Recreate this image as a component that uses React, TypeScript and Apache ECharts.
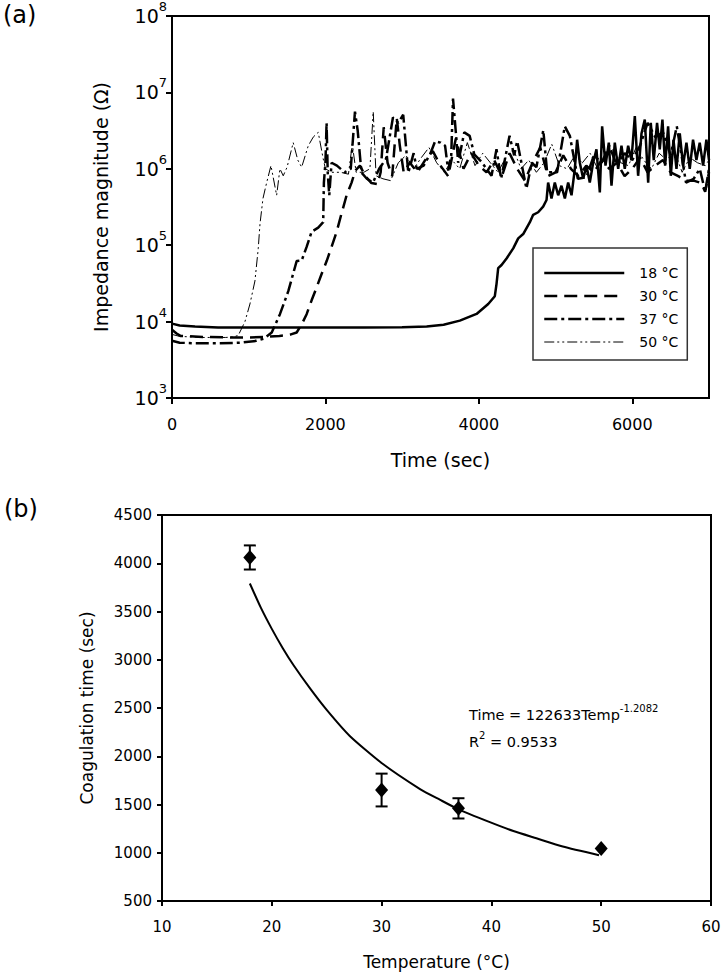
import React, { useEffect, useRef } from 'react';
import * as echarts from 'echarts';

const FONT = 'DejaVu Sans';

// ---- Panel (a): impedance magnitude vs time ----
const seriesNames = ['18 °C', '30 °C', '37 °C', '50 °C'];

const t18 = [0, 100, 300, 600, 1000, 1500, 2000, 2500, 3000, 3320, 3540, 3752, 3970, 4122, 4208, 4230, 4252, 4296, 4361, 4448, 4513, 4578, 4665, 4708, 4773, 4838, 4882, 4903, 4947, 4990, 5034, 5077, 5121, 5164, 5208, 5251, 5281, 5316, 5360, 5403, 5446, 5490, 5533, 5577, 5607, 5651, 5694, 5729, 5772, 5816, 5859, 5902, 5946, 5989, 6033, 6076, 6120, 6163, 6207, 6241, 6280, 6323, 6358, 6393, 6428, 6467, 6502, 6537, 6576, 6619, 6662, 6706, 6749, 6792, 6836, 6879, 6923, 6966, 7000];
const z18 = [9400, 8900, 8600, 8400, 8400, 8350, 8350, 8400, 8450, 8600, 9100, 10300, 12600, 17000, 21500, 31000, 50000, 55000, 67000, 91000, 123000, 140000, 200000, 250000, 270000, 320000, 390000, 660000, 410000, 660000, 450000, 600000, 410000, 660000, 450000, 1000000, 2400000, 1200000, 740000, 1100000, 660000, 1200000, 1800000, 490000, 3600000, 1100000, 2200000, 600000, 2200000, 1000000, 2000000, 1000000, 2000000, 1300000, 4900000, 810000, 2900000, 4400000, 660000, 4000000, 1300000, 4000000, 1800000, 4400000, 1100000, 3600000, 810000, 2400000, 1000000, 2900000, 1100000, 2200000, 1000000, 2400000, 1300000, 2200000, 1100000, 2400000, 1300000];

const t30 = [0, 60, 110, 400, 800, 1000, 1200, 1400, 1550, 1625, 1690, 1755, 1820, 1885, 1950, 2016, 2080, 2146, 2210, 2276, 2341, 2390, 2450, 2520, 2600, 2680, 2720, 2760, 2810, 2870, 2930, 2970, 3020, 3100, 3200, 3300, 3400, 3500, 3600, 3700, 3800, 3900, 4000, 4100, 4200, 4300, 4400, 4500, 4600, 4700, 4800, 4900, 5000, 5100, 5200, 5300, 5400, 5500, 5600, 5700, 5800, 5900, 6000, 6100, 6200, 6300, 6400, 6500, 6600, 6700, 6800, 6900, 6950, 7000];
const z30 = [7800, 7000, 6500, 6300, 6200, 6200, 6300, 6500, 6800, 7200, 9200, 12500, 19000, 28000, 42000, 62000, 95000, 150000, 260000, 450000, 660000, 950000, 1100000, 800000, 650000, 630000, 900000, 3500000, 1200000, 800000, 4600000, 2000000, 900000, 1200000, 900000, 1300000, 1700000, 1100000, 800000, 2500000, 1000000, 1600000, 1100000, 900000, 1300000, 800000, 1600000, 1000000, 700000, 1200000, 1900000, 800000, 900000, 1500000, 1000000, 800000, 1100000, 900000, 1300000, 1000000, 1200000, 800000, 1000000, 1400000, 900000, 1100000, 1300000, 900000, 800000, 700000, 700000, 650000, 500000, 900000];

const t37 = [0, 100, 300, 600, 900, 1100, 1200, 1300, 1407, 1516, 1625, 1690, 1755, 1820, 1906, 1971, 1980, 2000, 2015, 2030, 2050, 2080, 2150, 2250, 2330, 2385, 2420, 2470, 2540, 2620, 2700, 2790, 2880, 2950, 3014, 3080, 3150, 3190, 3280, 3370, 3430, 3500, 3560, 3600, 3640, 3663, 3700, 3730, 3810, 3880, 3940, 4030, 4165, 4230, 4290, 4400, 4460, 4500, 4620, 4690, 4750, 4840, 4890, 5020, 5120, 5186, 5290, 5403, 5500, 5600, 5700, 5800, 5900, 6000, 6100, 6200, 6300, 6400, 6500, 6580, 6700, 6800, 6880, 6950, 7000];
const z37 = [5600, 5300, 5200, 5200, 5300, 5600, 6000, 7200, 12500, 25000, 62000, 63000, 95000, 150000, 170000, 200000, 660000, 1200000, 4000000, 890000, 450000, 1200000, 1100000, 900000, 1000000, 5600000, 3200000, 890000, 740000, 660000, 1000000, 1350000, 4700000, 4000000, 5100000, 890000, 1600000, 1000000, 1100000, 1600000, 2300000, 2200000, 2000000, 950000, 1500000, 8300000, 3000000, 1200000, 3000000, 2700000, 1550000, 1250000, 810000, 1800000, 740000, 2700000, 1500000, 2300000, 550000, 1200000, 1050000, 3200000, 900000, 900000, 3600000, 2700000, 740000, 780000, 1500000, 1200000, 2000000, 1100000, 1600000, 1300000, 2000000, 4000000, 2600000, 3000000, 1500000, 3600000, 660000, 740000, 1000000, 500000, 1000000];

const t50 = [0, 100, 400, 700, 800, 864, 951, 1016, 1081, 1124, 1147, 1186, 1234, 1290, 1364, 1407, 1450, 1500, 1580, 1640, 1690, 1776, 1841, 1906, 1971, 2000, 2080, 2200, 2300, 2350, 2400, 2500, 2580, 2623, 2660, 2750, 2850, 2950, 3050, 3150, 3250, 3350, 3450, 3550, 3650, 3750, 3850, 3950, 4050, 4150, 4250, 4350, 4450, 4550, 4650, 4750, 4850, 4950, 5050, 5150, 5250, 5350, 5450, 5550, 5650, 5750, 5850, 5950, 6050, 6150, 6250, 6350, 6450, 6550, 6650, 6750, 6850, 6950, 7000];
const z50 = [6800, 6400, 6200, 6200, 6300, 6600, 10000, 17000, 34000, 90000, 190000, 410000, 660000, 1100000, 450000, 1000000, 810000, 1050000, 2200000, 1300000, 1050000, 2000000, 2600000, 3000000, 1350000, 1000000, 900000, 900000, 850000, 2100000, 900000, 900000, 1000000, 5600000, 810000, 740000, 700000, 1200000, 1500000, 1000000, 1400000, 1900000, 1200000, 900000, 1300000, 1000000, 2200000, 1100000, 1600000, 1200000, 900000, 1400000, 1800000, 1000000, 1300000, 900000, 1200000, 2100000, 1100000, 1000000, 1500000, 1200000, 1600000, 1000000, 1400000, 1800000, 1200000, 1100000, 1900000, 1300000, 1000000, 1600000, 1300000, 1700000, 900000, 1400000, 1200000, 1100000, 1300000];

const timeTicks = [0, 2000, 4000, 6000];

// ---- Panel (b): coagulation time vs temperature ----
const tempC = [18, 30, 37, 50];
const coagTime = [4060, 1650, 1460, 1045];
const coagErr = [125, 170, 105, 0];
const fitTemp = [18, 19, 20, 21, 22, 23.5, 25, 27.1, 30, 33.5, 35.3, 37, 39.8, 42, 44.1, 46.5, 49.8];
const fitTime = [3790, 3540, 3320, 3120, 2940, 2700, 2480, 2210, 1930, 1660, 1550, 1450, 1320, 1225, 1150, 1065, 975];

const black = '#000';

function pairs(xs: number[], ys: number[]) {
  return xs.map((x, i) => [x, ys[i]]);
}

function lineSeries(name: string, xs: number[], ys: number[], width: number, type: any) {
  return {
    name,
    type: 'line',
    xAxisIndex: 0,
    yAxisIndex: 0,
    data: pairs(xs, ys),
    symbol: 'none',
    showSymbol: false,
    lineStyle: { color: black, width, type },
    itemStyle: { color: black },
    z: 2,
  };
}

const plain = (v: number) => String(v);

function buildOption(): any {
  const axisLine = { show: true, onZero: false, lineStyle: { color: black, width: 2 } };
  const tickStyle = { color: black, width: 2 };
  return {
    animation: false,
    backgroundColor: '#fff',
    textStyle: { fontFamily: FONT },
    grid: [
      { left: 172, right: 15, top: 12, bottom: 580, show: true, borderColor: black, borderWidth: 2 },
      { left: 162, right: 13, top: 515, bottom: 77, show: true, borderColor: black, borderWidth: 2 },
    ],
    legend: {
      data: seriesNames,
      orient: 'vertical',
      left: 533,
      top: 248,
      itemWidth: 80,
      itemHeight: 14,
      itemGap: 9,
      padding: [18, 9, 11, 10],
      borderColor: '#333',
      borderWidth: 1.5,
      backgroundColor: '#fff',
      selectedMode: false,
      itemStyle: { opacity: 0 },
      lineStyle: { width: 'inherit', type: 'inherit' },
      textStyle: { fontSize: 14, fontFamily: FONT, color: black, padding: [0, 0, 0, 10] },
    },
    xAxis: [
      {
        gridIndex: 0,
        type: 'value',
        min: 0,
        max: 7000,
        name: 'Time (sec)',
        nameLocation: 'middle',
        nameGap: 52,
        nameTextStyle: { fontSize: 19, fontFamily: FONT, color: black },
        axisLine,
        axisTick: { show: true, length: 6, lineStyle: tickStyle, customValues: timeTicks },
        axisLabel: { fontSize: 16, fontFamily: FONT, color: black, margin: 18, customValues: timeTicks, formatter: plain },
        splitLine: { show: false },
      },
      {
        gridIndex: 1,
        type: 'value',
        min: 10,
        max: 60,
        interval: 10,
        name: 'Temperature (°C)',
        nameLocation: 'middle',
        nameGap: 52,
        nameTextStyle: { fontSize: 17, fontFamily: FONT, color: black },
        axisLine,
        axisTick: { show: true, length: 5, lineStyle: tickStyle },
        axisLabel: { fontSize: 15, fontFamily: FONT, color: black, margin: 18, formatter: plain },
        splitLine: { show: false },
      },
    ],
    yAxis: [
      {
        gridIndex: 0,
        type: 'log',
        logBase: 10,
        min: 1000,
        max: 100000000,
        name: 'Impedance magnitude (Ω)',
        nameLocation: 'middle',
        nameGap: 62,
        nameTextStyle: { fontSize: 19, fontFamily: FONT, color: black },
        axisLine,
        axisTick: { show: true, length: 6, lineStyle: tickStyle },
        minorTick: { show: false },
        axisLabel: {
          margin: 5,
          formatter: (v: number) => `{b|10}{s|${Math.round(Math.log10(v))}}`,
          rich: {
            b: { fontSize: 19, lineHeight: 32, fontFamily: FONT, color: black },
            s: { fontSize: 13, lineHeight: 14, verticalAlign: 'top', fontFamily: FONT, color: black },
          },
        },
        splitLine: { show: false },
      },
      {
        gridIndex: 1,
        type: 'value',
        min: 500,
        max: 4500,
        interval: 500,
        name: 'Coagulation time (sec)',
        nameLocation: 'middle',
        nameGap: 67,
        nameTextStyle: { fontSize: 17, fontFamily: FONT, color: black },
        axisLine,
        axisTick: { show: true, length: 5, lineStyle: tickStyle },
        axisLabel: { fontSize: 15, fontFamily: FONT, color: black, margin: 10, formatter: plain },
        splitLine: { show: false },
      },
    ],
    series: [
      lineSeries(seriesNames[0], t18, z18, 2.5, 'solid'),
      lineSeries(seriesNames[1], t30, z30, 2.5, [13, 7]),
      lineSeries(seriesNames[2], t37, z37, 2.5, [13, 4, 3, 4]),
      lineSeries(seriesNames[3], t50, z50, 1, [10, 3, 2, 3, 2, 3]),
      {
        name: 'fit',
        type: 'line',
        xAxisIndex: 1,
        yAxisIndex: 1,
        data: pairs(fitTemp, fitTime),
        smooth: 0.2,
        symbol: 'none',
        showSymbol: false,
        lineStyle: { color: black, width: 2 },
        z: 2,
      },
      {
        name: 'errors',
        type: 'custom',
        xAxisIndex: 1,
        yAxisIndex: 1,
        data: tempC.map((t, i) => [t, coagTime[i] - coagErr[i], coagTime[i] + coagErr[i]]),
        renderItem: (params: any, api: any) => {
          const lo = api.coord([api.value(0), api.value(1)]);
          const hi = api.coord([api.value(0), api.value(2)]);
          if (Math.abs(lo[1] - hi[1]) < 1) return null;
          const w = 6;
          const st = { stroke: black, lineWidth: 2 };
          return {
            type: 'group',
            children: [
              { type: 'line', shape: { x1: lo[0], y1: lo[1], x2: hi[0], y2: hi[1] }, style: st },
              { type: 'line', shape: { x1: lo[0] - w, y1: lo[1], x2: lo[0] + w, y2: lo[1] }, style: st },
              { type: 'line', shape: { x1: hi[0] - w, y1: hi[1], x2: hi[0] + w, y2: hi[1] }, style: st },
            ],
          };
        },
        z: 3,
      },
      {
        name: 'measured',
        type: 'scatter',
        xAxisIndex: 1,
        yAxisIndex: 1,
        data: pairs(tempC, coagTime),
        symbol: 'diamond',
        symbolSize: [13, 15],
        itemStyle: { color: black, opacity: 1 },
        z: 4,
      },
    ],
    graphic: [
      { type: 'text', left: 3, top: 3, style: { text: '(a)', fontSize: 24, fontFamily: FONT, fill: black } },
      { type: 'text', left: 4, top: 497, style: { text: '(b)', fontSize: 24, fontFamily: FONT, fill: black } },
      {
        type: 'text',
        left: 469,
        top: 703,
        style: {
          text: '{b|Time = 122633Temp}{s|-1.2082}',
          fill: black,
          rich: {
            b: { fontSize: 14.5, lineHeight: 24, fontFamily: FONT, fill: black, color: black },
            s: { fontSize: 10, lineHeight: 12, verticalAlign: 'top', fontFamily: FONT, fill: black, color: black },
          },
        },
      },
      {
        type: 'text',
        left: 469,
        top: 730,
        style: {
          text: '{b|R}{s|2}{b| = 0.9533}',
          fill: black,
          rich: {
            b: { fontSize: 14.5, lineHeight: 24, fontFamily: FONT, fill: black, color: black },
            s: { fontSize: 10, lineHeight: 12, verticalAlign: 'top', fontFamily: FONT, fill: black, color: black },
          },
        },
      },
    ],
  };
}

export default function App() {
  const ref = useRef<HTMLDivElement>(null);
  useEffect(() => {
    const chart = echarts.init(ref.current as HTMLDivElement, null, { renderer: 'svg' });
    chart.setOption(buildOption());
    return () => chart.dispose();
  }, []);
  return (
    <div
      ref={ref}
      style={{ position: 'fixed', left: 0, top: 0, width: 724, height: 978, background: '#fff' }}
    />
  );
}
